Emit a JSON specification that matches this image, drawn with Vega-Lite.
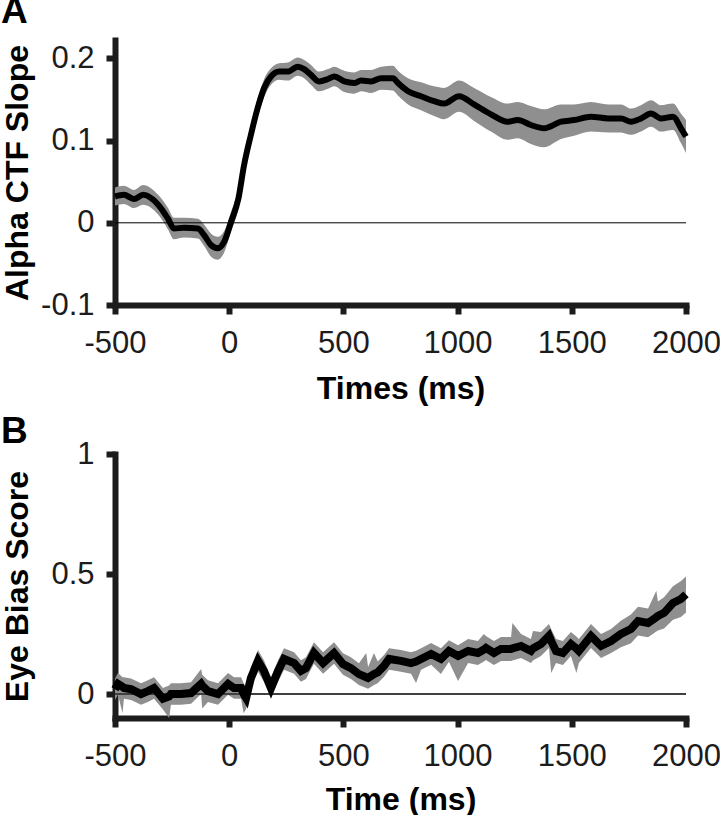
{
  "$schema": "https://vega.github.io/schema/vega-lite/v6.json",
  "padding": {"left": 0, "top": -7, "right": 0, "bottom": 0},
  "background": "white",
  "config": {
    "view": {"stroke": null},
    "font": "Liberation Sans",
    "axis": {
      "grid": false,
      "domainColor": "#1c1c1c",
      "domainWidth": 6,
      "domainCap": "square",
      "tickColor": "#1c1c1c",
      "tickWidth": 6,
      "tickSize": 9,
      "labelFont": "Liberation Sans",
      "labelFontSize": 31,
      "labelColor": "#1c1c1c",
      "titleFont": "Liberation Sans",
      "titleFontSize": 32,
      "titleFontWeight": "bold",
      "titleColor": "#000000",
      "labelFlush": false,
      "labelOverlap": false
    }
  },
  "datasets": {
    "a": [
      {"t": -500, "m": 0.032, "lo": 0.021, "hi": 0.043},
      {"t": -461, "m": 0.034, "lo": 0.023, "hi": 0.045},
      {"t": -417, "m": 0.029, "lo": 0.018, "hi": 0.040},
      {"t": -377, "m": 0.034, "lo": 0.022, "hi": 0.046},
      {"t": -311, "m": 0.022, "lo": 0.010, "hi": 0.034},
      {"t": -268, "m": 0.005, "lo": -0.008, "hi": 0.018},
      {"t": -242, "m": -0.007, "lo": -0.020, "hi": 0.006},
      {"t": -198, "m": -0.006, "lo": -0.018, "hi": 0.006},
      {"t": -137, "m": -0.007, "lo": -0.019, "hi": 0.005},
      {"t": -110, "m": -0.015, "lo": -0.028, "hi": -0.002},
      {"t": -80, "m": -0.027, "lo": -0.041, "hi": -0.013},
      {"t": -50, "m": -0.031, "lo": -0.045, "hi": -0.017},
      {"t": -22, "m": -0.023, "lo": -0.036, "hi": -0.010},
      {"t": 8, "m": 0.001, "lo": -0.011, "hi": 0.013},
      {"t": 40, "m": 0.029, "lo": 0.017, "hi": 0.041},
      {"t": 65, "m": 0.070, "lo": 0.058, "hi": 0.082},
      {"t": 95, "m": 0.107, "lo": 0.095, "hi": 0.119},
      {"t": 124, "m": 0.139, "lo": 0.128, "hi": 0.150},
      {"t": 153, "m": 0.164, "lo": 0.153, "hi": 0.175},
      {"t": 183, "m": 0.178, "lo": 0.168, "hi": 0.188},
      {"t": 219, "m": 0.184, "lo": 0.174, "hi": 0.194},
      {"t": 257, "m": 0.184, "lo": 0.173, "hi": 0.195},
      {"t": 300, "m": 0.190, "lo": 0.179, "hi": 0.201},
      {"t": 328, "m": 0.187, "lo": 0.176, "hi": 0.198},
      {"t": 358, "m": 0.180, "lo": 0.168, "hi": 0.192},
      {"t": 393, "m": 0.172, "lo": 0.160, "hi": 0.184},
      {"t": 433, "m": 0.175, "lo": 0.163, "hi": 0.187},
      {"t": 460, "m": 0.178, "lo": 0.166, "hi": 0.190},
      {"t": 504, "m": 0.172, "lo": 0.159, "hi": 0.185},
      {"t": 547, "m": 0.170, "lo": 0.157, "hi": 0.183},
      {"t": 577, "m": 0.173, "lo": 0.160, "hi": 0.186},
      {"t": 621, "m": 0.172, "lo": 0.158, "hi": 0.186},
      {"t": 665, "m": 0.176, "lo": 0.162, "hi": 0.190},
      {"t": 717, "m": 0.176, "lo": 0.161, "hi": 0.191},
      {"t": 739, "m": 0.170, "lo": 0.155, "hi": 0.185},
      {"t": 783, "m": 0.160, "lo": 0.144, "hi": 0.176},
      {"t": 840, "m": 0.154, "lo": 0.137, "hi": 0.171},
      {"t": 897, "m": 0.148, "lo": 0.130, "hi": 0.166},
      {"t": 941, "m": 0.145, "lo": 0.126, "hi": 0.164},
      {"t": 1006, "m": 0.154, "lo": 0.135, "hi": 0.173},
      {"t": 1072, "m": 0.144, "lo": 0.124, "hi": 0.164},
      {"t": 1146, "m": 0.132, "lo": 0.111, "hi": 0.153},
      {"t": 1219, "m": 0.123, "lo": 0.101, "hi": 0.145},
      {"t": 1263, "m": 0.125, "lo": 0.103, "hi": 0.147},
      {"t": 1321, "m": 0.119, "lo": 0.096, "hi": 0.142},
      {"t": 1378, "m": 0.115, "lo": 0.092, "hi": 0.138},
      {"t": 1453, "m": 0.123, "lo": 0.102, "hi": 0.144},
      {"t": 1510, "m": 0.125, "lo": 0.106, "hi": 0.144},
      {"t": 1584, "m": 0.129, "lo": 0.111, "hi": 0.147},
      {"t": 1659, "m": 0.127, "lo": 0.110, "hi": 0.144},
      {"t": 1716, "m": 0.127, "lo": 0.110, "hi": 0.144},
      {"t": 1759, "m": 0.123, "lo": 0.107, "hi": 0.139},
      {"t": 1803, "m": 0.127, "lo": 0.111, "hi": 0.143},
      {"t": 1847, "m": 0.133, "lo": 0.117, "hi": 0.149},
      {"t": 1890, "m": 0.127, "lo": 0.111, "hi": 0.143},
      {"t": 1943, "m": 0.129, "lo": 0.113, "hi": 0.145},
      {"t": 1978, "m": 0.115, "lo": 0.097, "hi": 0.133},
      {"t": 2000, "m": 0.105, "lo": 0.085, "hi": 0.125}
    ],
    "b": [
      {"t": -500, "m": 0.020, "lo": -0.025, "hi": 0.065},
      {"t": -487, "m": 0.042, "lo": -0.003, "hi": 0.087},
      {"t": -467, "m": 0.030, "lo": -0.080, "hi": 0.070},
      {"t": -461, "m": 0.025, "lo": -0.020, "hi": 0.070},
      {"t": -430, "m": 0.020, "lo": -0.025, "hi": 0.065},
      {"t": -386, "m": 0.000, "lo": -0.045, "hi": 0.045},
      {"t": -356, "m": 0.012, "lo": -0.033, "hi": 0.057},
      {"t": -329, "m": 0.025, "lo": -0.020, "hi": 0.070},
      {"t": -290, "m": -0.020, "lo": -0.065, "hi": 0.025},
      {"t": -263, "m": -0.010, "lo": -0.100, "hi": 0.035},
      {"t": -255, "m": 0.000, "lo": -0.045, "hi": 0.045},
      {"t": -211, "m": 0.000, "lo": -0.045, "hi": 0.045},
      {"t": -167, "m": 0.004, "lo": -0.041, "hi": 0.049},
      {"t": -123, "m": 0.042, "lo": 0.000, "hi": 0.104},
      {"t": -118, "m": 0.035, "lo": -0.060, "hi": 0.080},
      {"t": -93, "m": 0.012, "lo": -0.033, "hi": 0.057},
      {"t": -49, "m": 0.000, "lo": -0.045, "hi": 0.045},
      {"t": -5, "m": 0.042, "lo": -0.003, "hi": 0.087},
      {"t": 21, "m": 0.025, "lo": -0.020, "hi": 0.070},
      {"t": 52, "m": 0.025, "lo": -0.020, "hi": 0.070},
      {"t": 63, "m": 0.000, "lo": -0.080, "hi": 0.045},
      {"t": 74, "m": -0.017, "lo": -0.062, "hi": 0.028},
      {"t": 95, "m": 0.067, "lo": 0.022, "hi": 0.112},
      {"t": 126, "m": 0.138, "lo": 0.093, "hi": 0.183},
      {"t": 152, "m": 0.096, "lo": 0.051, "hi": 0.141},
      {"t": 183, "m": 0.025, "lo": -0.020, "hi": 0.070},
      {"t": 214, "m": 0.096, "lo": 0.051, "hi": 0.141},
      {"t": 240, "m": 0.146, "lo": 0.101, "hi": 0.191},
      {"t": 284, "m": 0.129, "lo": 0.084, "hi": 0.174},
      {"t": 314, "m": 0.096, "lo": 0.051, "hi": 0.141},
      {"t": 336, "m": 0.108, "lo": 0.063, "hi": 0.153},
      {"t": 371, "m": 0.171, "lo": 0.126, "hi": 0.216},
      {"t": 411, "m": 0.129, "lo": 0.084, "hi": 0.174},
      {"t": 459, "m": 0.171, "lo": 0.126, "hi": 0.216},
      {"t": 498, "m": 0.125, "lo": 0.080, "hi": 0.170},
      {"t": 533, "m": 0.108, "lo": 0.063, "hi": 0.153},
      {"t": 568, "m": 0.083, "lo": 0.038, "hi": 0.128},
      {"t": 600, "m": 0.070, "lo": 0.025, "hi": 0.171},
      {"t": 608, "m": 0.067, "lo": 0.022, "hi": 0.112},
      {"t": 634, "m": 0.083, "lo": 0.038, "hi": 0.171},
      {"t": 650, "m": 0.090, "lo": 0.045, "hi": 0.135},
      {"t": 678, "m": 0.117, "lo": 0.072, "hi": 0.162},
      {"t": 700, "m": 0.146, "lo": 0.101, "hi": 0.191},
      {"t": 752, "m": 0.138, "lo": 0.093, "hi": 0.183},
      {"t": 796, "m": 0.129, "lo": 0.084, "hi": 0.174},
      {"t": 818, "m": 0.135, "lo": 0.046, "hi": 0.180},
      {"t": 840, "m": 0.146, "lo": 0.101, "hi": 0.191},
      {"t": 884, "m": 0.167, "lo": 0.122, "hi": 0.212},
      {"t": 927, "m": 0.146, "lo": 0.083, "hi": 0.191},
      {"t": 962, "m": 0.179, "lo": 0.134, "hi": 0.224},
      {"t": 1002, "m": 0.158, "lo": 0.054, "hi": 0.203},
      {"t": 1046, "m": 0.179, "lo": 0.129, "hi": 0.229},
      {"t": 1089, "m": 0.171, "lo": 0.121, "hi": 0.221},
      {"t": 1115, "m": 0.185, "lo": 0.135, "hi": 0.250},
      {"t": 1124, "m": 0.192, "lo": 0.142, "hi": 0.242},
      {"t": 1159, "m": 0.171, "lo": 0.121, "hi": 0.221},
      {"t": 1190, "m": 0.188, "lo": 0.138, "hi": 0.238},
      {"t": 1234, "m": 0.188, "lo": 0.138, "hi": 0.238},
      {"t": 1240, "m": 0.190, "lo": 0.140, "hi": 0.296},
      {"t": 1278, "m": 0.200, "lo": 0.150, "hi": 0.250},
      {"t": 1321, "m": 0.179, "lo": 0.129, "hi": 0.229},
      {"t": 1330, "m": 0.190, "lo": 0.140, "hi": 0.263},
      {"t": 1365, "m": 0.208, "lo": 0.158, "hi": 0.258},
      {"t": 1400, "m": 0.242, "lo": 0.192, "hi": 0.292},
      {"t": 1410, "m": 0.220, "lo": 0.088, "hi": 0.270},
      {"t": 1431, "m": 0.179, "lo": 0.129, "hi": 0.229},
      {"t": 1461, "m": 0.171, "lo": 0.121, "hi": 0.221},
      {"t": 1496, "m": 0.208, "lo": 0.158, "hi": 0.258},
      {"t": 1520, "m": 0.190, "lo": 0.088, "hi": 0.240},
      {"t": 1531, "m": 0.179, "lo": 0.129, "hi": 0.229},
      {"t": 1584, "m": 0.242, "lo": 0.192, "hi": 0.292},
      {"t": 1628, "m": 0.200, "lo": 0.150, "hi": 0.250},
      {"t": 1672, "m": 0.221, "lo": 0.171, "hi": 0.271},
      {"t": 1715, "m": 0.250, "lo": 0.195, "hi": 0.305},
      {"t": 1759, "m": 0.271, "lo": 0.211, "hi": 0.331},
      {"t": 1790, "m": 0.304, "lo": 0.244, "hi": 0.364},
      {"t": 1834, "m": 0.296, "lo": 0.236, "hi": 0.356},
      {"t": 1870, "m": 0.320, "lo": 0.260, "hi": 0.430},
      {"t": 1877, "m": 0.325, "lo": 0.265, "hi": 0.385},
      {"t": 1904, "m": 0.338, "lo": 0.273, "hi": 0.403},
      {"t": 1943, "m": 0.379, "lo": 0.309, "hi": 0.449},
      {"t": 1978, "m": 0.396, "lo": 0.321, "hi": 0.471},
      {"t": 2000, "m": 0.415, "lo": 0.340, "hi": 0.490}
    ]
  },
  "bounds": "flush",
  "spacing": 149,
  "vconcat": [
    {
      "width": 571,
      "height": 265,
      "title": {"text": "A", "anchor": "start", "frame": "group", "dx": -114, "offset": -20, "fontSize": 37, "fontWeight": "bold", "font": "Liberation Sans", "color": "#000000", "baseline": "alphabetic"},
      "data": {"name": "a"},
      "layer": [
        {
          "mark": {"type": "area", "color": "#8f8f8f", "opacity": 1, "interpolate": "monotone"},
          "encoding": {
            "x": {"field": "t", "type": "quantitative", "scale": {"domain": [-500, 2000], "nice": false, "zero": false},
              "axis": {"title": "Times (ms)", "values": [-500, 0, 500, 1000, 1500, 2000], "labelExpr": "'' + datum.value", "labelPadding": 14, "titleY": 93, "titleBaseline": "alphabetic"}},
            "y": {"field": "lo", "type": "quantitative", "scale": {"domain": [-0.1, 0.2224], "nice": false, "zero": false},
              "axis": {"title": "Alpha CTF Slope", "values": [-0.1, 0, 0.1, 0.2], "labelExpr": "'' + datum.value", "labelPadding": 12, "titleX": -98, "titleBaseline": "middle", "titleAngle": -90}},
            "y2": {"field": "hi"}
          }
        },
        {
          "data": {"values": [{}]},
          "mark": {"type": "rule", "color": "#000000", "strokeWidth": 1},
          "encoding": {"x": {"datum": -500, "type": "quantitative"}, "x2": {"datum": 2000}, "y": {"datum": 0, "type": "quantitative"}}
        },
        {
          "mark": {"type": "line", "color": "#000000", "strokeWidth": 6, "interpolate": "monotone"},
          "encoding": {"x": {"field": "t", "type": "quantitative"}, "y": {"field": "m", "type": "quantitative"}}
        }
      ]
    },
    {
      "width": 571,
      "height": 264,
      "title": {"text": "B", "anchor": "start", "frame": "group", "dx": -114, "offset": -42, "fontSize": 37, "fontWeight": "bold", "font": "Liberation Sans", "color": "#000000", "baseline": "alphabetic"},
      "data": {"name": "b"},
      "layer": [
        {
          "mark": {"type": "area", "color": "#8f8f8f", "opacity": 1},
          "encoding": {
            "x": {"field": "t", "type": "quantitative", "scale": {"domain": [-500, 2000], "nice": false, "zero": false},
              "axis": {"title": "Time (ms)", "values": [-500, 0, 500, 1000, 1500, 2000], "labelExpr": "'' + datum.value", "labelPadding": 14, "titleY": 91, "titleBaseline": "alphabetic"}},
            "y": {"field": "lo", "type": "quantitative", "scale": {"domain": [-0.1, 1], "nice": false, "zero": false},
              "axis": {"title": "Eye Bias Score", "values": [0, 0.5, 1], "labelExpr": "'' + datum.value", "labelPadding": 12, "titleX": -98, "titleBaseline": "middle", "titleAngle": -90}},
            "y2": {"field": "hi"}
          }
        },
        {
          "data": {"values": [{}]},
          "mark": {"type": "rule", "color": "#404040", "strokeWidth": 2},
          "encoding": {"x": {"datum": -500, "type": "quantitative"}, "x2": {"datum": 2000}, "y": {"datum": 0, "type": "quantitative"}}
        },
        {
          "mark": {"type": "line", "color": "#000000", "strokeWidth": 8},
          "encoding": {"x": {"field": "t", "type": "quantitative"}, "y": {"field": "m", "type": "quantitative"}}
        }
      ]
    }
  ]
}
